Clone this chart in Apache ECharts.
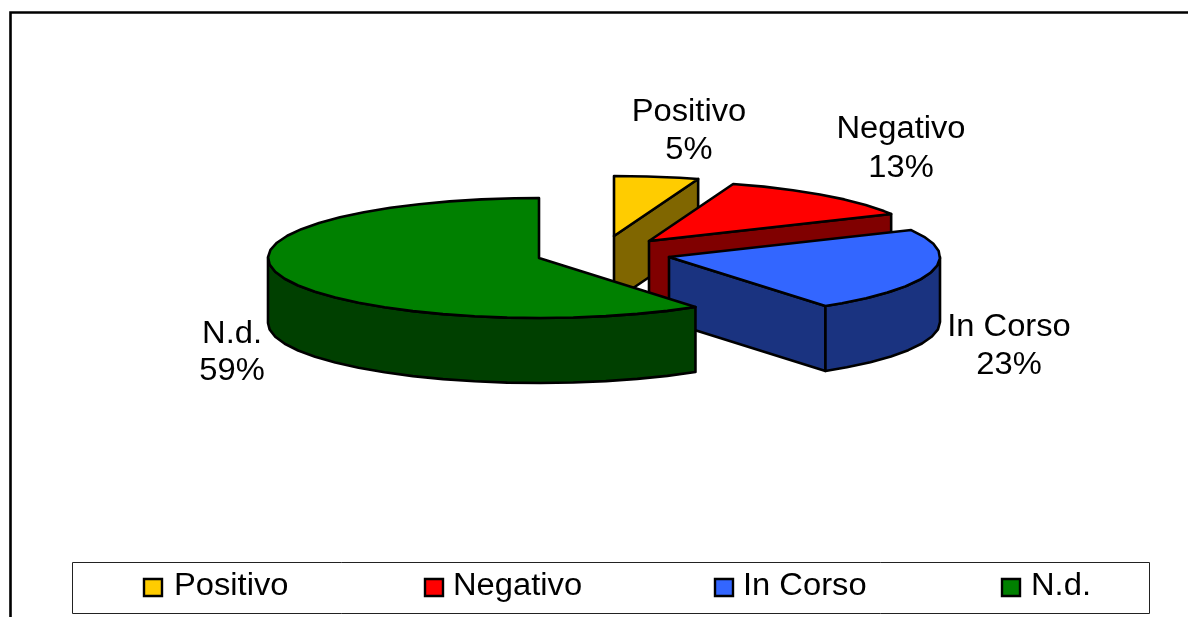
<!DOCTYPE html>
<html>
<head>
<meta charset="utf-8">
<style>html,body{margin:0;padding:0;background:#fff}#c{width:1188px;height:617px}</style>
<script src="https://cdn.jsdelivr.net/npm/echarts@6/dist/echarts.min.js"></script>
</head>
<body>
<div id="c"></div>
<script>
// Data
var categories = ['Positivo', 'Negativo', 'In Corso', 'N.d.'];
var values = [5, 12.5, 22.5, 59.49];

// Styles and layout (not data)
var topColors = ['#FFCC00', '#FF0000', '#3366FF', '#008000'];
var wallColors = ['#806600', '#800000', '#1A3380', '#004000'];
var apexes = [[614, 236], [649, 241], [669, 257], [539, 258]];
var labelPos = [[689, 112, 150], [901, 129, 168], [1009, 327, 365], [232, 334, 371]];
var legendSwatchX = [144, 425, 715, 1002];
var legendTextX = [174, 453, 743, 1031];
var RX = 271, RY = 60, DEPTH = 65, STEP = 7;
var FONT = '31px "Liberation Sans", Arial, sans-serif';
var STRETCH = 1.055;

var total = values.reduce(function (a, b) { return a + b; }, 0);
var starts = [];
values.reduce(function (acc, v, i) { starts[i] = acc; return acc + v; }, 0);

function pt(apex, deg, dy) {
  var r = deg * Math.PI / 180;
  return [apex[0] + RX * Math.sin(r), apex[1] - RY * Math.cos(r) + (dy || 0)];
}
function arc(apex, a0, a1, dy) {
  var out = [];
  for (var d = a0; d < a1; d += STEP) out.push(pt(apex, d, dy));
  out.push(pt(apex, a1, dy));
  return out;
}
function edge(color, points) {
  return {
    type: 'polygon',
    shape: { points: points },
    style: { fill: color, stroke: '#000', lineWidth: 2.6, lineJoin: 'round' }
  };
}
function label(text, cx, cy, align) {
  return {
    type: 'text', x: cx, y: cy, scaleX: STRETCH,
    style: { text: text, x: 0, y: 0, font: FONT, fill: '#000', align: align || 'center', verticalAlign: 'middle' }
  };
}

function renderItem(params, api) {
  var i = params.dataIndex;
  var v = api.value(1);
  var a0 = starts[i] / total * 360;
  var a1 = a0 + v / total * 360;
  var apex = apexes[i];
  var kids = [];

  // cut face on the trailing edge, only when it faces the viewer
  if (Math.sin(a1 * Math.PI / 180) > 0.001) {
    var e = pt(apex, a1);
    kids.push(edge(wallColors[i], [apex, e, [e[0], e[1] + DEPTH], [apex[0], apex[1] + DEPTH]]));
  }
  // outer rim on the front half of the ellipse
  var r0 = Math.max(a0, 90), r1 = Math.min(a1, 270);
  if (r1 > r0) {
    kids.push(edge(wallColors[i], arc(apex, r0, r1, 0).concat(arc(apex, r0, r1, DEPTH).reverse())));
  }
  // top face
  kids.push(edge(topColors[i], [apex].concat(arc(apex, a0, a1, 0))));

  // data label
  var lp = labelPos[i];
  kids.push(label(categories[i], lp[0], lp[1]));
  kids.push(label(Math.round(v) + '%', lp[0], lp[2]));

  // legend entry
  kids.push({
    type: 'rect',
    shape: { x: legendSwatchX[i], y: 579, width: 18, height: 17 },
    style: { fill: topColors[i], stroke: '#000', lineWidth: 2.4 }
  });
  kids.push(label(categories[i], legendTextX[i], 586, 'left'));

  return { type: 'group', children: kids };
}

var chart = echarts.init(document.getElementById('c'), null, { renderer: 'canvas' });
chart.setOption({
  animation: false,
  backgroundColor: '#fff',
  graphic: [
    { type: 'polyline', silent: true, z: 0,
      shape: { points: [[10.5, 617], [10.5, 12.5], [1188, 12.5]] },
      style: { fill: null, stroke: '#000', lineWidth: 2.6 } },
    { type: 'rect', silent: true, z: 0,
      shape: { x: 72.5, y: 562.5, width: 1077, height: 51 },
      style: { fill: '#fff', stroke: '#222', lineWidth: 1 } }
  ],
  series: [{
    type: 'custom',
    coordinateSystem: 'none',
    renderItem: renderItem,
    clip: false,
    z: 5,
    data: categories.map(function (c, i) { return { name: c, value: [i, values[i]] }; })
  }]
});
</script>
</body>
</html>
